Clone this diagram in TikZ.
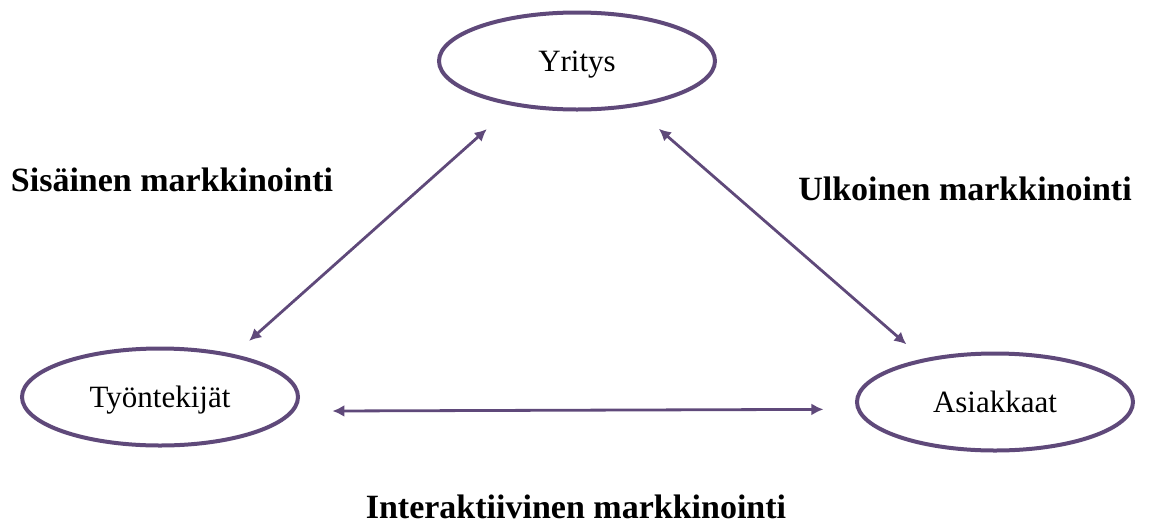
\documentclass[tikz,border=0pt]{standalone}
\usepackage{fontspec}
\setmainfont{Liberation Serif}
\usetikzlibrary{arrows.meta,shapes.geometric}
\definecolor{violet}{HTML}{5F497A}
\begin{document}
\begin{tikzpicture}[x=1pt,y=-1pt,
    party/.style={ellipse, draw=violet, line width=4pt, inner sep=0pt,
        minimum width=276pt, minimum height=97pt,
        text height=20pt, text depth=0pt, font=\fontsize{31}{37}\selectfont},
    link/.style={{Latex[length=12pt,width=12pt]}-{Latex[length=12pt,width=12pt]},
        draw=violet, line width=2.8pt},
    title/.style={anchor=base, inner sep=0pt, font=\fontsize{34}{40}\selectfont\bfseries}]
    \useasboundingbox (0,0) rectangle (1157,528);

    \node[party] (yritys) at (577,61) {Yritys};
    \node[party] (tyontekijat) at (160,397) {Työntekijät};
    \node[party] (asiakkaat) at (995,402) {Asiakkaat};

    \draw[link, shorten <=20pt, shorten >=35pt] (tyontekijat.30) -- (yritys.215.5);
    \draw[link, shorten <=33pt, shorten >=22pt] (yritys.321) -- (asiakkaat.149.7);
    \draw[link, shorten <=38pt, shorten >=33pt] (tyontekijat.354.4) -- (asiakkaat.183.3);

    \node[title] (sisainen) at (172,191) {Sisäinen markkinointi};
    \node[title] (ulkoinen) at (965,200) {Ulkoinen markkinointi};
    \node[title] (interaktiivinen) at (576,518) {Interaktiivinen markkinointi};
\end{tikzpicture}
\end{document}
